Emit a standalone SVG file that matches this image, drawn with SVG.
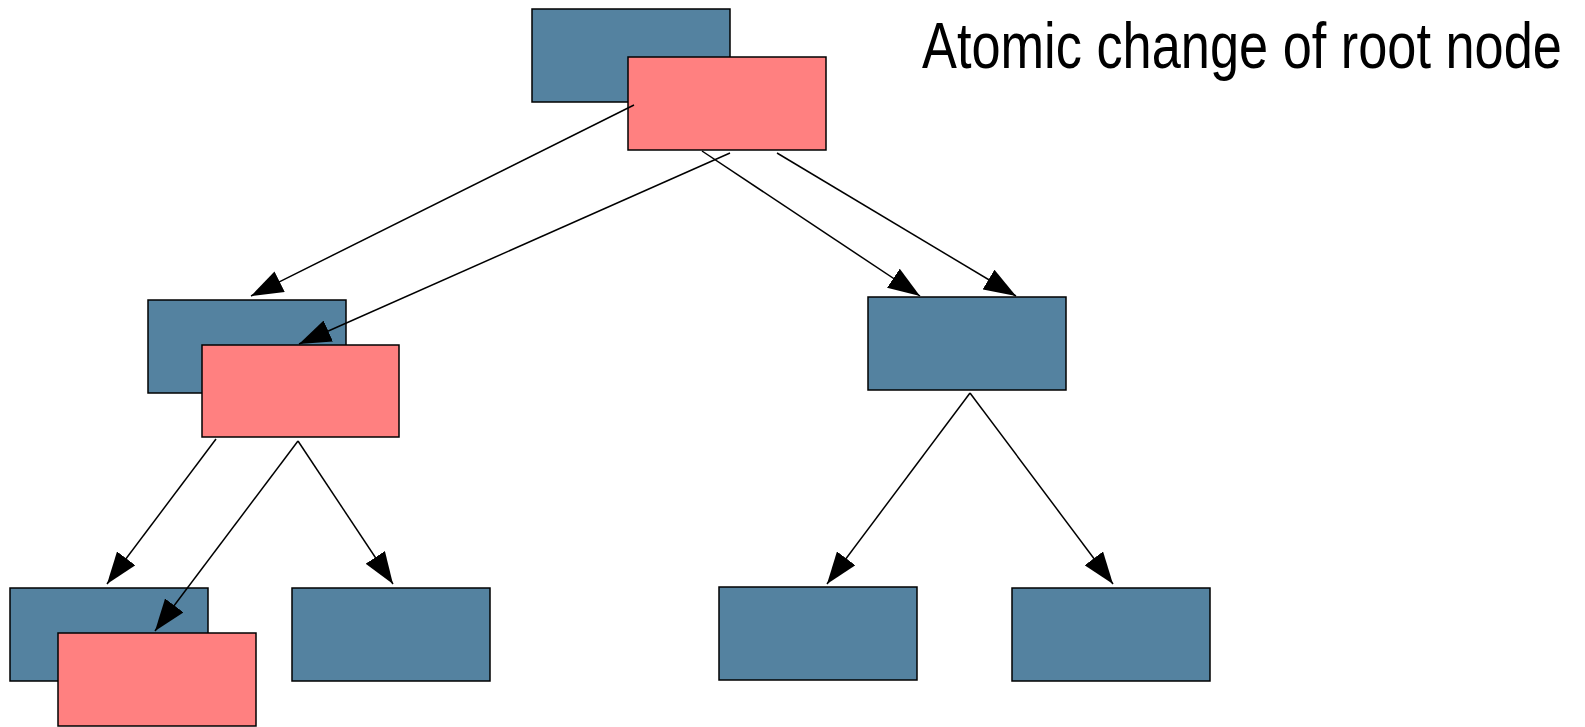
<svg xmlns="http://www.w3.org/2000/svg" width="1585" height="727" viewBox="0 0 1585 727">
<style>
.old{fill:#5482a0;stroke:#000;stroke-width:1.5}
.new{fill:#ff8080;stroke:#000;stroke-width:1.5}
.edge{stroke:#000;stroke-width:1.5;fill:none;marker-end:url(#arr)}
.title{font-family:"Liberation Sans",Arial,sans-serif;font-size:65px;fill:#000}
</style>
<defs>
<marker id="arr" markerUnits="userSpaceOnUse" viewBox="0 0 32 23" markerWidth="32" markerHeight="23" refX="32" refY="11.5" orient="auto">
<path d="M0,0 L32,11.5 L0,23 z" fill="#000"/>
</marker>
</defs>
<rect width="1585" height="727" fill="#fff"/>
<g id="root-old"><rect class="old" x="532" y="9" width="198" height="93"/></g>
<g id="root-new"><rect class="new" x="628" y="57" width="198" height="93"/></g>
<g id="mid-left-old"><rect class="old" x="148" y="300" width="198" height="93"/></g>
<g id="mid-left-new"><rect class="new" x="202" y="345" width="197" height="92"/></g>
<g id="mid-right"><rect class="old" x="868" y="297" width="198" height="93"/></g>
<g id="leaf1-old"><rect class="old" x="10" y="588" width="198" height="93"/></g>
<g id="leaf1-new"><rect class="new" x="58" y="633" width="198" height="93"/></g>
<g id="leaf2"><rect class="old" x="292" y="588" width="198" height="93"/></g>
<g id="leaf3"><rect class="old" x="719" y="587" width="198" height="93"/></g>
<g id="leaf4"><rect class="old" x="1012" y="588" width="198" height="93"/></g>
<g id="connectors">
<line class="edge" x1="634" y1="105" x2="251" y2="296"/>
<line class="edge" x1="730" y1="153" x2="299" y2="344"/>
<line class="edge" x1="702" y1="151" x2="920" y2="296"/>
<line class="edge" x1="777" y1="153" x2="1016" y2="296"/>
<line class="edge" x1="216" y1="439" x2="107" y2="584"/>
<line class="edge" x1="298" y1="441" x2="155" y2="631"/>
<line class="edge" x1="298" y1="441" x2="393" y2="584"/>
<line class="edge" x1="970" y1="393" x2="827" y2="584"/>
<line class="edge" x1="970" y1="393" x2="1113" y2="584"/>
</g>
<text class="title" transform="translate(922,68) scale(0.805,1)" x="0" y="0">Atomic change of root node</text>
</svg>
